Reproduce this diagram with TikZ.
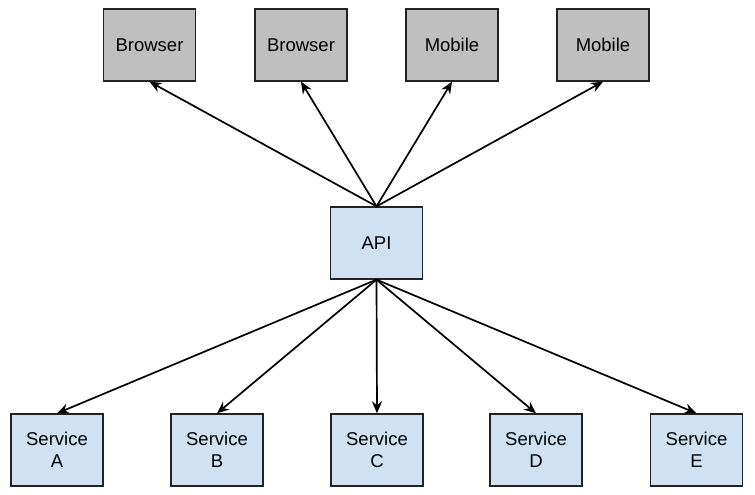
\documentclass[tikz,border=0pt]{standalone}
\usepackage{fontspec}
\setmainfont{Liberation Sans}
\usetikzlibrary{arrows.meta}
\definecolor{clientgray}{HTML}{BFBFBF}
\definecolor{svcblue}{HTML}{CFE2F3}
\definecolor{boxline}{HTML}{222222}
\tikzset{clientbox/.style={draw=boxline,line width=1.3pt,fill=clientgray,
    minimum width=92pt,minimum height=72pt,inner sep=0pt,
    font=\fontsize{18.5}{22}\selectfont,align=center}}
\tikzset{svcbox/.style={draw=boxline,line width=1.3pt,fill=svcblue,
    minimum width=92pt,minimum height=72pt,inner sep=0pt,
    font=\fontsize{18.5}{22}\selectfont,align=center}}
\tikzset{callline/.style={line width=1.7pt,-{Stealth[length=12pt,width=10pt]}}}

\begin{document}
\begin{tikzpicture}[x=1pt,y=-1pt]

\useasboundingbox (0,0) rectangle (755,495);

% クライアント
\node[clientbox] (browserA) at (149.5,45) {Browser};
\node[clientbox] (browserB) at (301,45) {Browser};
\node[clientbox] (mobileA) at (452,45) {Mobile};
\node[clientbox] (mobileB) at (603,45) {Mobile};

% API
\node[svcbox] (api) at (376.5,243) {API};

% サービス
\node[svcbox] (svcA) at (57,450) {Service\\A};
\node[svcbox] (svcB) at (217,450) {Service\\B};
\node[svcbox] (svcC) at (377,450) {Service\\C};
\node[svcbox] (svcD) at (536,450) {Service\\D};
\node[svcbox] (svcE) at (696.5,450) {Service\\E};

% API からクライアントへ
\draw[callline] (api.north) -- (browserA.south);
\draw[callline] (api.north) -- (browserB.south);
\draw[callline] (api.north) -- (mobileA.south);
\draw[callline] (api.north) -- (mobileB.south);

% API からサービスへ
\draw[callline] (api.south) -- (svcA.north);
\draw[callline] (api.south) -- (svcB.north);
\draw[callline] (api.south) -- (svcC.north);
\draw[callline] (api.south) -- (svcD.north);
\draw[callline] (api.south) -- (svcE.north);

\end{tikzpicture}
\end{document}
